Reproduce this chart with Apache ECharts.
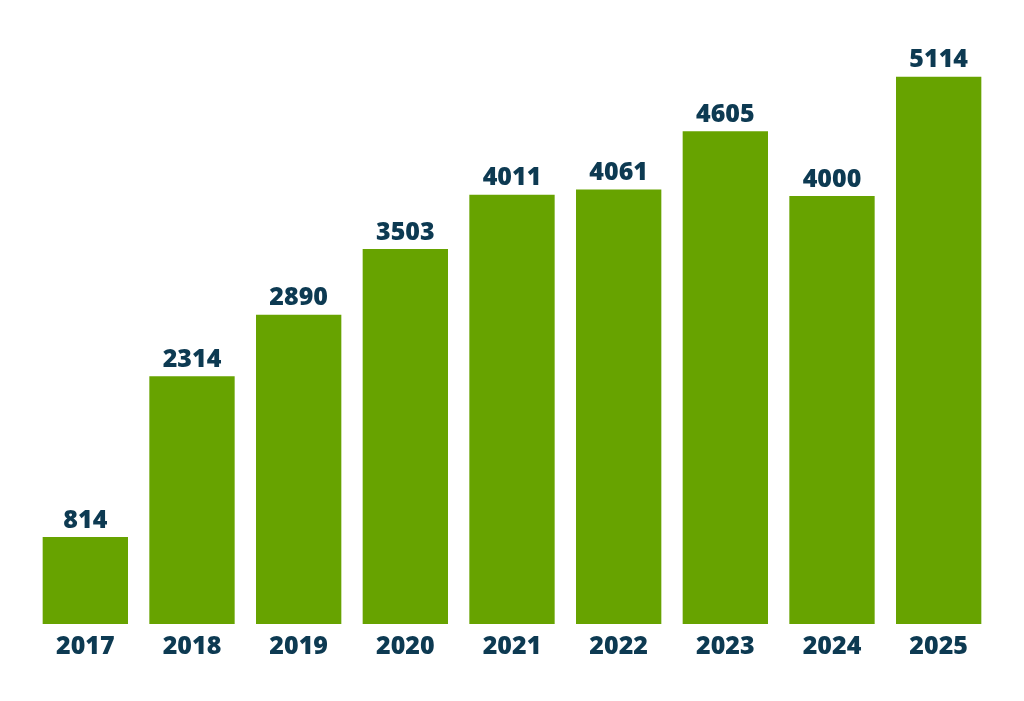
<!DOCTYPE html>
<html>
<head>
<meta charset="utf-8">
<script src="https://cdn.jsdelivr.net/npm/echarts@6/dist/echarts.min.js"></script>
<style>
  html, body { margin: 0; padding: 0; background: #ffffff; }
  #chart { width: 1024px; height: 701px; }
</style>
</head>
<body>
<div id="chart"></div>
<script>
const years = ['2017', '2018', '2019', '2020', '2021', '2022', '2023', '2024', '2025'];
const counts = [814, 2314, 2890, 3503, 4011, 4061, 4605, 4000, 5114];

const textColor = '#0d3a52';
const barColor = '#67a300';

const chart = echarts.init(document.getElementById('chart'));
chart.setOption({
  animation: false,
  grid: { left: 32, right: 32, top: 35.4, bottom: 77, containLabel: false },
  xAxis: {
    type: 'category',
    data: years,
    axisLine: { show: false },
    axisTick: { show: false },
    axisLabel: {
      color: textColor,
      fontFamily: 'Open Sans',
      fontWeight: 800,
      fontSize: 25,
      margin: 10
    }
  },
  yAxis: {
    type: 'value',
    min: 0,
    max: 5500,
    show: false,
    splitLine: { show: false }
  },
  series: [{
    type: 'bar',
    data: counts,
    barWidth: '80%',
    itemStyle: { color: barColor },
    label: {
      show: true,
      position: 'top',
      distance: 4,
      color: textColor,
      fontFamily: 'Open Sans',
      fontWeight: 800,
      fontSize: 25
    }
  }]
});
</script>
</body>
</html>
